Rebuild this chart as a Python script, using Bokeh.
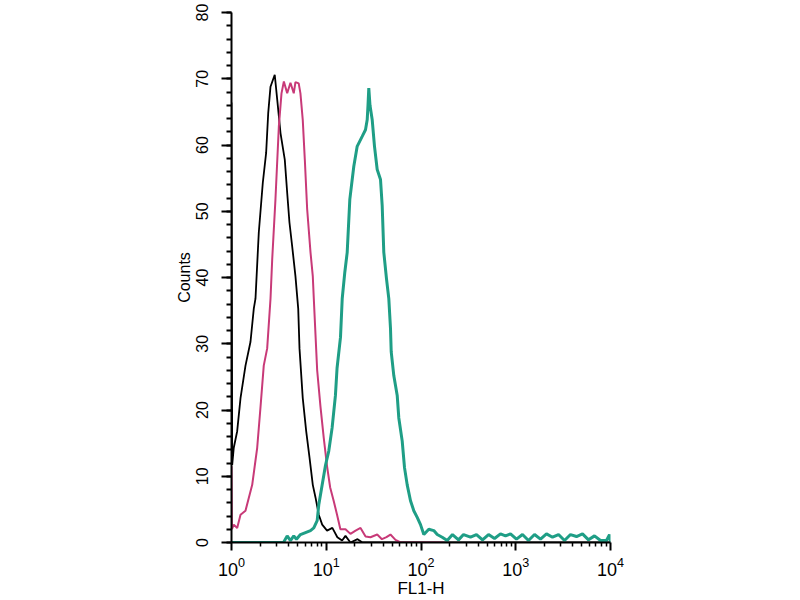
from bokeh.plotting import figure
from bokeh.models import FixedTicker
from bokeh.embed import file_html
from bokeh.resources import INLINE

# FL1-H values (log scale) and counts
black_x = [1.0, 1.017, 1.057, 1.148, 1.245, 1.405, 1.587, 1.719, 1.791, 1.941,
           2.14, 2.32, 2.44, 2.58, 2.86, 3.04, 3.29, 3.65, 3.87, 4.09,
           4.37, 4.73, 5.06, 5.22, 5.65, 6.14, 6.66, 7.21, 7.70, 8.34,
           9.06, 10.2, 11.6, 13.1, 14.7, 15.96, 18.0, 21.4, 24.1, 10000]
black_y = [66.4, 11.7, 14.3, 16.8, 21.8, 26.7, 30.3, 35.3, 36.8, 46.8,
           54.3, 58.8, 64.8, 68.8, 70.6, 66.8, 61.8, 57.8, 52.8, 48.3,
           44.7, 40.2, 35.3, 29.3, 21.8, 16.8, 12.8, 8.7, 6.8, 4.2,
           2.7, 1.8, 2.2, 0.8, 0.3, 1.0, 0, 0.5, 0, 0]

magenta_x = [1.0, 1.01, 1.057, 1.148, 1.245, 1.405, 1.654, 1.867, 2.02, 2.19,
             2.38, 2.58, 2.69, 2.91, 3.16, 3.37, 3.57, 3.87, 4.19, 4.54,
             4.73, 5.12, 5.34, 5.65, 5.94, 6.29, 6.82, 7.21, 7.39, 8.02,
             8.69, 9.41, 10.2, 11.0, 11.97, 13.0, 14.1, 15.96, 18.0, 20.4,
             23.0, 26.0, 29.3, 34.5, 38.7, 43.2, 47.6, 53.8, 60.9, 173]
magenta_y = [11.5, 2.0, 2.7, 2.2, 4.2, 4.8, 8.7, 14.3, 20.3, 26.7,
             29.3, 36.8, 42.8, 51.8, 62.8, 67.8, 69.6, 67.8, 69.4, 67.8,
             69.5, 69.3, 67.8, 63.8, 57.8, 50.3, 43.8, 40.2, 36.8, 26.0,
             20.5, 15.8, 11.5, 8.3, 6.3, 4.2, 2.0, 2.0, 1.3, 1.8,
             2.2, 0.9, 0.8, 1.2, 0.5, 0.8, 1.2, 0.4, 0, 0]

green_x = [1.0, 3.54, 3.87, 4.19, 4.54, 4.85, 5.34, 6.82, 7.39, 8.02,
           8.34, 9.06, 9.83, 10.63, 11.53, 12.5, 13.0, 14.14, 14.74, 15.70,
           16.64, 17.73, 18.79, 19.54, 21.21, 23.96, 25.96, 27.05, 27.58, 28.12,
           28.95, 30.55, 32.30, 34.49, 37.37, 38.95, 40.50, 43.24, 45.73, 47.65,
           48.47, 51.63, 56.09, 58.31, 63.34, 66.98, 71.51, 77.49, 83.95, 91.19,
           98.8, 107.1, 120.9, 136.5, 148.3, 167.4, 189.1, 215, 249, 281,
           333, 385, 446, 516, 597, 690, 780, 880, 1018, 1178,
           1363, 1578, 1825, 2111, 2443, 2827, 3270, 3783, 4378, 5064,
           5859, 6779, 7843, 9075, 9759, 10000]
green_y = [0, 0, 1.0, 0.3, 1.0, 0.5, 1.2, 1.8, 2.2, 3.3,
           5.7, 8.7, 11.7, 13.8, 17.3, 22.2, 26.3, 31.0, 36.8, 40.8,
           43.8, 51.8, 54.8, 56.8, 59.8, 61.3, 62.3, 63.8, 66.0, 68.6,
           66.0, 63.8, 59.8, 56.3, 54.8, 50.8, 43.8, 39.8, 36.8, 32.3,
           28.8, 25.2, 22.2, 18.8, 15.3, 11.3, 8.7, 6.3, 4.8, 3.8,
           2.7, 1.2, 2.0, 1.8, 1.2, 0.8, 0.3, 1.2, 0.4, 1.2,
           0.8, 1.2, 0.4, 1.2, 0.6, 1.3, 1.0, 1.3, 0.5, 1.2,
           0.3, 1.2, 0.5, 1.3, 0.8, 1.2, 0.3, 1.2, 0.9, 1.3,
           0.4, 1.0, 0.3, 0.3, 1.2, 0]

x_tick_values = [1, 10, 100, 1000, 10000]
y_tick_values = [0, 10, 20, 30, 40, 50, 60, 70, 80]

FONT = "Liberation Sans"

p = figure(width=800, height=600, x_axis_type="log",
           x_range=(1, 10000), y_range=(0, 80),
           output_backend="svg", toolbar_location=None,
           min_border_left=231, min_border_right=190,
           min_border_top=12, min_border_bottom=55)
p.outline_line_color = None
p.grid.visible = False
p.background_fill_color = "white"
p.border_fill_color = "white"

p.line(black_x, black_y, line_color="black", line_width=1.8)
p.line(magenta_x, magenta_y, line_color="#c83a78", line_width=2)
p.line(green_x, green_y, line_color="#1f9e86", line_width=3)

# x axis: log decades with minor ticks 2..9
minor = [m * 10 ** k for k in range(4) for m in range(2, 10)]
p.xaxis.ticker = FixedTicker(ticks=x_tick_values, minor_ticks=minor)
p.xaxis.axis_line_width = 2
p.xaxis.major_tick_line_width = 2
p.xaxis.minor_tick_line_width = 1.5
p.xaxis.major_tick_in = 0
p.xaxis.major_tick_out = 8
p.xaxis.minor_tick_in = 0
p.xaxis.minor_tick_out = 4
p.xaxis.major_label_standoff = 6
p.xaxis.major_label_text_font = FONT
p.xaxis.major_label_text_font_size = "18px"
p.xaxis.major_label_text_color = "black"
p.xaxis.axis_label = "FL1-H"
p.xaxis.axis_label_text_font = FONT
p.xaxis.axis_label_text_font_size = "17px"
p.xaxis.axis_label_text_font_style = "normal"
p.xaxis.axis_label_text_color = "black"
p.xaxis.axis_label_standoff = 0

# y axis
y_minor = list(range(0, 81, 2))
p.yaxis.ticker = FixedTicker(ticks=y_tick_values, minor_ticks=y_minor)
p.yaxis.axis_line_width = 2
p.yaxis.major_tick_line_width = 2
p.yaxis.minor_tick_line_width = 2
p.yaxis.major_tick_in = 0
p.yaxis.major_tick_out = 10
p.yaxis.minor_tick_in = 0
p.yaxis.minor_tick_out = 5
p.yaxis.major_label_orientation = "vertical"
p.yaxis.major_label_standoff = 14
p.yaxis.major_label_text_font = FONT
p.yaxis.major_label_text_font_size = "16px"
p.yaxis.major_label_text_color = "black"
p.yaxis.axis_label = "Counts"
p.yaxis.axis_label_text_font = FONT
p.yaxis.axis_label_text_font_size = "16px"
p.yaxis.axis_label_text_font_style = "normal"
p.yaxis.axis_label_text_color = "black"
p.yaxis.axis_label_standoff = 0

open("out.html", "w").write(file_html(p, INLINE))
